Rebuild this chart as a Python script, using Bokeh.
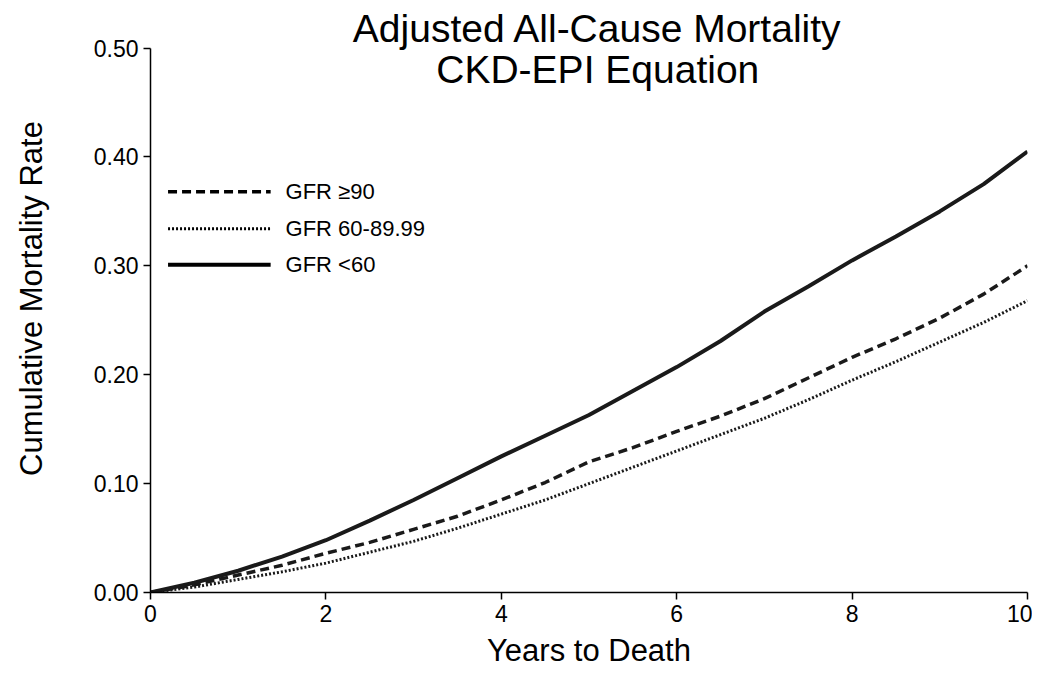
from bokeh.plotting import figure
from bokeh.models import Label, FixedTicker, NumeralTickFormatter
from bokeh.embed import file_html
from bokeh.resources import INLINE

years = [0, 0.5, 1, 1.5, 2, 2.5, 3, 3.5, 4, 4.5, 5, 5.5, 6, 6.5, 7, 7.5, 8, 8.5, 9, 9.5, 10]
gfr_90 = [0, 0.007, 0.016, 0.025, 0.036, 0.046, 0.058, 0.070, 0.085, 0.101, 0.120, 0.133, 0.148, 0.162, 0.178, 0.197, 0.216, 0.233, 0.252, 0.274, 0.300]
gfr_60_89 = [0, 0.005, 0.012, 0.019, 0.027, 0.037, 0.047, 0.059, 0.072, 0.085, 0.100, 0.115, 0.130, 0.145, 0.160, 0.177, 0.195, 0.212, 0.230, 0.248, 0.268]
gfr_lt60 = [0, 0.009, 0.020, 0.033, 0.048, 0.066, 0.085, 0.105, 0.125, 0.144, 0.163, 0.185, 0.207, 0.231, 0.258, 0.281, 0.305, 0.327, 0.350, 0.375, 0.405]
legend_names = ["GFR \u226590", "GFR 60-89.99", "GFR <60"]
dashes = ["9 5", "2 2", "solid"]
widths = [3.5, 3, 4]

FONT = "Liberation Sans"

# y range runs a bit past 0.50 so the title fits inside the frame; the axis stops at 0.50
p = figure(width=1032, height=678, x_range=(0, 10), y_range=(0, 0.54),
           output_backend="svg", toolbar_location=None,
           min_border_left=150, min_border_right=5, min_border_top=4, min_border_bottom=86)
p.outline_line_color = None
p.grid.visible = False
p.background_fill_color = "white"

for ys, dash, w in zip([gfr_90, gfr_60_89, gfr_lt60], dashes, widths):
    p.line(years, ys, line_color="#1a1a1a", line_width=w, line_dash=dash)

# legend drawn by hand
leg_y = [0.368, 0.334, 0.301]
for name, dash, w, ly in zip(legend_names, dashes, widths, leg_y):
    p.line([0.2, 1.37], [ly, ly], line_color="black", line_width=w, line_dash=dash)
    p.add_layout(Label(x=1.54, y=ly, text=name, text_font=FONT, text_font_size="22px",
                       text_baseline="middle", text_color="black"))

for txt, ty in [("Adjusted All-Cause Mortality", 0.518), ("CKD-EPI Equation", 0.480)]:
    p.add_layout(Label(x=5.1, y=ty, text=txt, text_font=FONT, text_font_size="39px",
                       text_align="center", text_baseline="middle", text_color="black"))

p.xaxis.ticker = FixedTicker(ticks=[0, 2, 4, 6, 8, 10])
p.yaxis.ticker = FixedTicker(ticks=[0, 0.1, 0.2, 0.3, 0.4, 0.5])
p.yaxis.bounds = (0, 0.5)
p.yaxis.formatter = NumeralTickFormatter(format="0.00")
for ax in (p.xaxis, p.yaxis):
    ax.minor_tick_line_color = None
    ax.major_tick_in = 0
    ax.major_tick_out = 7
    ax.axis_line_width = 1.5
    ax.major_tick_line_width = 1.5
    ax.major_label_text_font = FONT
    ax.major_label_text_font_size = "23px"
    ax.major_label_text_color = "black"
    ax.axis_label_text_font = FONT
    ax.axis_label_text_font_size = "31px"
    ax.axis_label_text_font_style = "normal"
    ax.axis_label_text_color = "black"
p.xaxis.axis_label = "Years to Death"
p.yaxis.axis_label = "Cumulative Mortality Rate"
p.xaxis.axis_label_standoff = 8
p.yaxis.axis_label_standoff = 42

open("out.html", "w").write(file_html(p, INLINE))
